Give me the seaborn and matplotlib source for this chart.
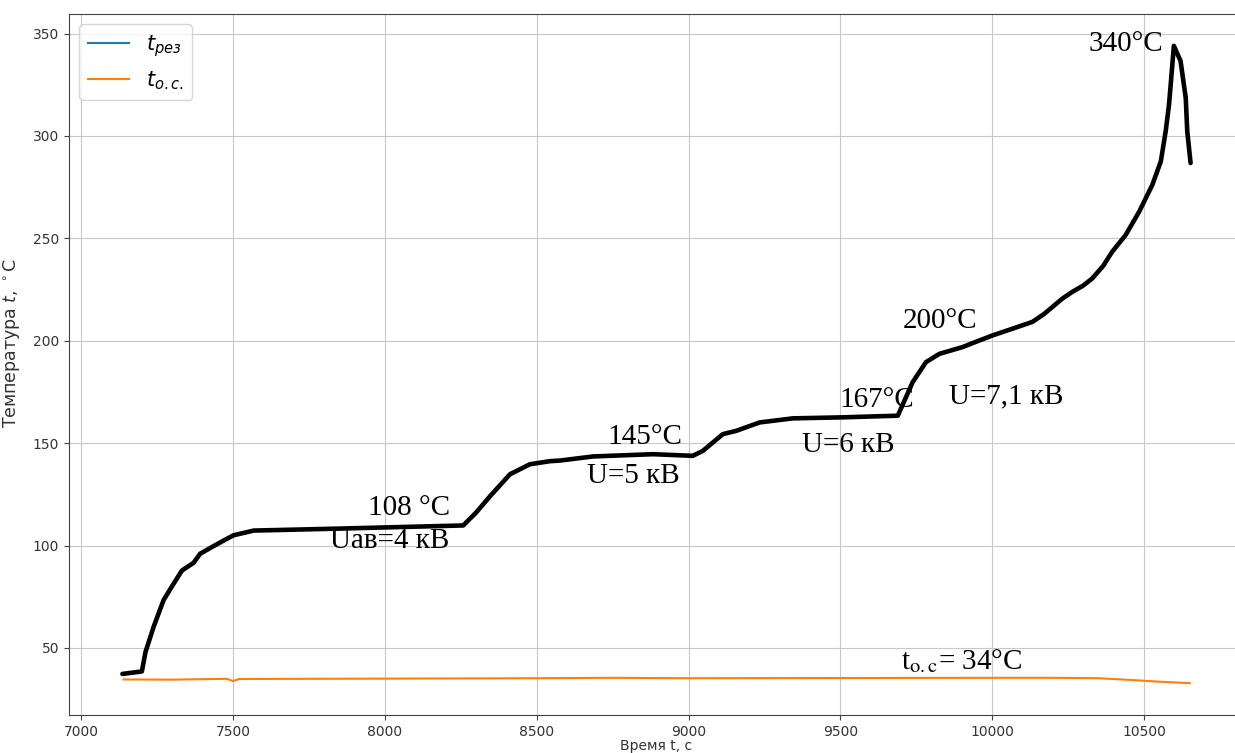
import matplotlib
matplotlib.use("Agg")
import matplotlib.pyplot as plt
import seaborn as sns
import pandas as pd

# ---- data ----
time_rez = [7136, 7200, 7212, 7239, 7272, 7299, 7332, 7370, 7392, 7436, 7470, 7502, 7568,
            7831, 8258, 8300, 8346, 8412, 8478, 8544, 8577, 8686, 8883, 9014, 9047,
            9113, 9157, 9234, 9343, 9508, 9689, 9738, 9782, 9826, 9902, 9957, 10001,
            10067, 10132, 10170, 10198, 10230, 10264, 10300, 10329, 10365, 10395, 10439,
            10484, 10527, 10555, 10571, 10582, 10593, 10598, 10620, 10637, 10642, 10653]
temp_rez = [37.3, 38.5, 48.0, 60.4, 73.5, 80.0, 87.8, 91.5, 96.0, 99.7, 102.5, 105.0, 107.3,
            108.2, 109.8, 116.0, 124.0, 134.8, 139.7, 141.2, 141.5, 143.5, 144.6, 143.8, 146.2,
            154.4, 156.0, 160.1, 162.1, 162.6, 163.4, 179.8, 189.6, 193.6, 196.9, 200.1, 202.6,
            205.9, 209.2, 213.0, 216.5, 220.5, 223.9, 227.0, 230.4, 236.5, 243.5, 251.6,
            263.1, 276.1, 287.6, 302.3, 315.3, 335.0, 344.0, 336.6, 318.6, 302.3, 286.8]

time_os = [7140, 7300, 7480, 7500, 7520, 7700, 8000, 8500, 8750, 9000, 9500,
           10000, 10200, 10350, 10450, 10550, 10650]
temp_os = [34.6, 34.5, 34.9, 33.8, 34.8, 34.9, 35.0, 35.2, 35.4, 35.2, 35.3,
           35.4, 35.4, 35.2, 34.4, 33.5, 32.8]

annotations = [
    ("108 °C", 7945, 114.7),
    ("Uав=4 кВ", 7820, 99.0),
    ("145°C", 8734, 149.5),
    ("U=5 кВ", 8665, 130.4),
    ("167°C", 9497, 167.6),
    ("U=6 кВ", 9372, 145.6),
    ("200°C", 9704, 206.4),
    ("U=7,1 кВ", 9859, 169.6),
    ("340°C", 10316, 341.7),
    (r"t$_{\mathrm{o.c}}$= 34°C", 9701, 39.7),
]

df_rez = pd.DataFrame({"t": time_rez, "T": temp_rez})
df_os = pd.DataFrame({"t": time_os, "T": temp_os})

fig = plt.figure(figsize=(12.35, 7.53), dpi=100)
ax = fig.add_axes([69 / 1235, 38 / 753, (1244 - 69) / 1235, (715 - 14) / 753])

sns.lineplot(data=df_rez, x="t", y="T", ax=ax, color="#1f77b4", lw=1.5,
             sort=False, label=r"$t_{рез}$")
sns.lineplot(data=df_os, x="t", y="T", ax=ax, color="#ff7f0e", lw=1.5,
             sort=False, label=r"$t_{о.с.}$")
sns.lineplot(data=df_rez, x="t", y="T", ax=ax, color="black", lw=3.3,
             sort=False, legend=False, solid_capstyle="round", solid_joinstyle="round")

ax.grid(True, color="#c8c8c8", lw=0.8)
ax.set_xticks([7000, 7500, 8000, 8500, 9000, 9500, 10000, 10500])
ax.set_yticks([50, 100, 150, 200, 250, 300, 350])
ax.tick_params(colors="#444444", labelcolor="#333333")
for s in ax.spines.values():
    s.set_color("#444444")
ax.set_xlabel("Время t, c", fontsize=10, labelpad=0, color="#333333")
ax.set_ylabel(r"Температура $t$, $^\circ$C", fontsize=12.5, color="#333333")
ax.yaxis.set_label_coords(-0.04, 0.53)

for txt, x, y in annotations:
    ax.text(x, y, txt, fontsize=21, family="Liberation Serif",
            math_fontfamily="stix", ha="left", va="baseline")

ax.legend(loc="upper left", fontsize=15)

fig.savefig("out.png", dpi=100)
